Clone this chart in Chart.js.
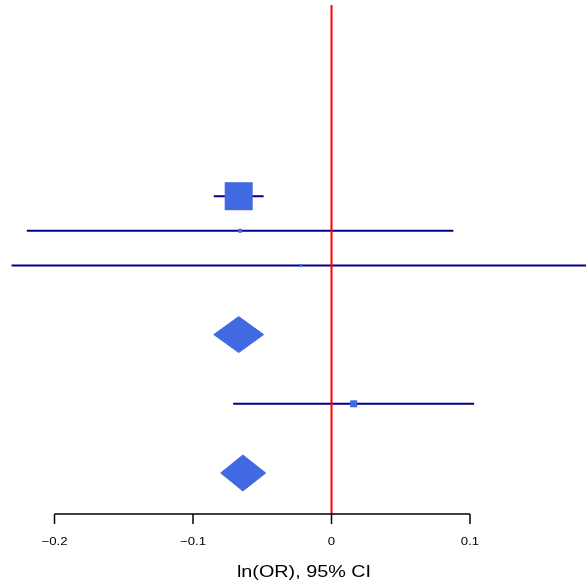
<!DOCTYPE html>
<html>
<head>
<meta charset="utf-8">
<script src="https://cdn.jsdelivr.net/npm/chart.js@4/dist/chart.umd.min.js"></script>
<style>
  html, body { margin: 0; padding: 0; background: #ffffff; }
  #wrap { width: 586px; height: 583px; }
</style>
</head>
<body>
<div id="wrap"><canvas id="c" width="586" height="583"></canvas></div>
<script>
// ---- data ----
const studyRows = [9, 8, 7, 3];
const studyEst = [-0.067, -0.066, -0.022, 0.016];
const studyLower = [-0.085, -0.220, -0.231, -0.071];
const studyUpper = [-0.049, 0.088, 0.187, 0.103];
const studyWeights = [100, 14, 10, 25];

const summaryRows = [5, 1];
const summaryEst = [-0.067, -0.064];
const summaryLower = [-0.085, -0.080];
const summaryUpper = [-0.049, -0.0475];

const tickValues = [-0.2, -0.1, 0, 0.1];
const tickLabels = ['\u22120.2', '\u22120.1', '0', '0.1'];
const axisTitle = 'ln(OR), 95% CI';
const refValue = 0;

// ---- build datasets ----
const Y_MIN = -0.185, Y_MAX = 14.526;
const datasets = [];

// reference line (on top)
datasets.push({
  type: 'scatter', showLine: true,
  data: [{x: refValue, y: Y_MIN}, {x: refValue, y: Y_MAX}],
  borderColor: '#ff0000', borderWidth: 2, pointRadius: 0, order: 0
});

// study squares
datasets.push({
  type: 'scatter',
  data: studyEst.map((e, i) => ({x: e, y: studyRows[i]})),
  pointStyle: 'rect',
  pointRadius: studyWeights.map(w => w * 0.198),
  backgroundColor: '#4169e1', borderColor: '#4169e1', borderWidth: 0,
  order: 1
});

// CI lines
studyRows.forEach((r, i) => {
  datasets.push({
    type: 'scatter', showLine: true,
    data: [{x: studyLower[i], y: r}, {x: studyUpper[i], y: r}],
    borderColor: '#00008b', borderWidth: 2, pointRadius: 0, order: 3
  });
});

// summary diamonds (upper half + lower half filled to previous)
const HALF = 0.52;
summaryRows.forEach((r, i) => {
  datasets.push({
    type: 'scatter', showLine: true,
    data: [{x: summaryLower[i], y: r}, {x: summaryEst[i], y: r + HALF}, {x: summaryUpper[i], y: r}],
    borderColor: '#4169e1', borderWidth: 1, pointRadius: 0, tension: 0, order: 2
  });
  datasets.push({
    type: 'scatter', showLine: true,
    data: [{x: summaryLower[i], y: r}, {x: summaryEst[i], y: r - HALF}, {x: summaryUpper[i], y: r}],
    borderColor: '#4169e1', borderWidth: 1, pointRadius: 0, tension: 0,
    fill: '-1', backgroundColor: '#4169e1', order: 2
  });
});

// ---- axis plugin ----
function stretchedText(ctx, text, x, y, sx) {
  ctx.save();
  ctx.translate(x, y);
  ctx.scale(sx, 1);
  ctx.fillText(text, 0, 0);
  ctx.restore();
}
const axisPlugin = {
  id: 'forestAxis',
  afterDraw(chart) {
    const ctx = chart.ctx;
    const xs = chart.scales.x;
    const y0 = chart.chartArea.bottom;
    const xa = xs.getPixelForValue(tickValues[0]);
    const xb = xs.getPixelForValue(tickValues[tickValues.length - 1]);
    ctx.save();
    ctx.strokeStyle = '#000000';
    ctx.lineWidth = 1.5;
    ctx.beginPath();
    ctx.moveTo(xa, y0);
    ctx.lineTo(xb, y0);
    tickValues.forEach(v => {
      const px = xs.getPixelForValue(v);
      ctx.moveTo(px, y0);
      ctx.lineTo(px, y0 + 10);
    });
    ctx.stroke();
    ctx.fillStyle = '#000000';
    ctx.font = '11px "Liberation Sans", Arial, sans-serif';
    ctx.textAlign = 'center';
    ctx.textBaseline = 'alphabetic';
    tickValues.forEach((v, i) => {
      stretchedText(ctx, tickLabels[i], xs.getPixelForValue(v), y0 + 30.5, 1.2);
    });
    ctx.font = '16.5px "Liberation Sans", Arial, sans-serif';
    stretchedText(ctx, axisTitle, 304, y0 + 62.5, 1.2);
    ctx.restore();
  }
};

new Chart(document.getElementById('c'), {
  type: 'scatter',
  data: { datasets },
  options: {
    responsive: false,
    animation: false,
    devicePixelRatio: 1,
    layout: { autoPadding: false, padding: { top: 5, bottom: 69, left: 0, right: 0 } },
    plugins: { legend: { display: false }, tooltip: { enabled: false } },
    scales: {
      x: { type: 'linear', min: -0.23935, max: 0.18375, display: false },
      y: { type: 'linear', min: Y_MIN, max: Y_MAX, display: false }
    }
  },
  plugins: [axisPlugin]
});
</script>
</body>
</html>
